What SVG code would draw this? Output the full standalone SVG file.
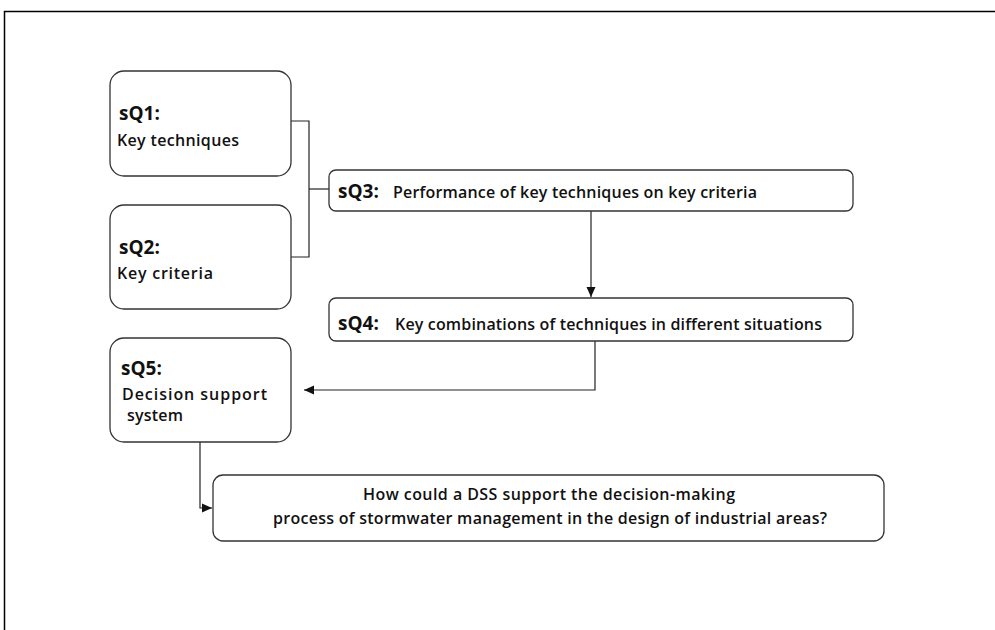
<svg xmlns="http://www.w3.org/2000/svg" width="995" height="630" viewBox="0 0 995 630">
<style>
.box{fill:#fff;stroke:#333;stroke-width:1.3}
.con{fill:none;stroke:#222;stroke-width:1.2}
.t{font-family:"Open Sans","Liberation Sans",sans-serif;font-weight:600;fill:#111}
.h{font-size:19px;font-weight:700}
.b{font-size:16px}
</style>
<defs>
<marker id="ah" markerWidth="11" markerHeight="11" refX="10" refY="5.5" orient="auto" markerUnits="userSpaceOnUse">
<path d="M0,1 L10,5.5 L0,10 Z" fill="#111"/>
</marker>
</defs>
<rect width="995" height="630" fill="#fff"/>
<path d="M4.5,630 V11.5 H995" fill="none" stroke="#000" stroke-width="1.5"/>
<g id="connectors">
<path class="con" d="M291,121 H309 V257 H291"/>
<path class="con" d="M309,189 H329"/>
<path class="con" d="M591,211 V297" marker-end="url(#ah)"/>
<path class="con" d="M595,341 V390 H304" marker-end="url(#ah)"/>
<path class="con" d="M200,442 V508 H212" marker-end="url(#ah)"/>
</g>
<g id="sQ1">
<rect class="box" x="110" y="71" width="181" height="105" rx="14"/>
<text class="t h" x="119" y="120">sQ1:</text>
<text class="t b" x="117" y="146" textLength="122">Key techniques</text>
</g>
<g id="sQ2">
<rect class="box" x="110" y="205" width="181" height="104" rx="14"/>
<text class="t h" x="119" y="254">sQ2:</text>
<text class="t b" x="117" y="279" textLength="96">Key criteria</text>
</g>
<g id="sQ3">
<rect class="box" x="329" y="170" width="524" height="41" rx="7"/>
<text class="t h" x="338" y="198">sQ3:</text>
<text class="t b" x="393" y="198" textLength="364">Performance of key techniques on key criteria</text>
</g>
<g id="sQ4">
<rect class="box" x="329" y="298" width="524" height="43" rx="7"/>
<text class="t h" x="338" y="330">sQ4:</text>
<text class="t b" x="395" y="330" textLength="427">Key combinations of techniques in different situations</text>
</g>
<g id="sQ5">
<rect class="box" x="110" y="338" width="181" height="104" rx="14"/>
<text class="t h" x="121" y="375">sQ5:</text>
<text class="t b" x="122" y="400" textLength="145">Decision support</text>
<text class="t b" x="127" y="421" textLength="56">system</text>
</g>
<g id="main">
<rect class="box" x="213" y="475" width="671" height="66" rx="10"/>
<text class="t b" x="549" y="500" text-anchor="middle" textLength="372">How could a DSS support the decision-making</text>
<text class="t b" x="550" y="524" text-anchor="middle" textLength="554">process of stormwater management in the design of industrial areas?</text>
</g>
</svg>
